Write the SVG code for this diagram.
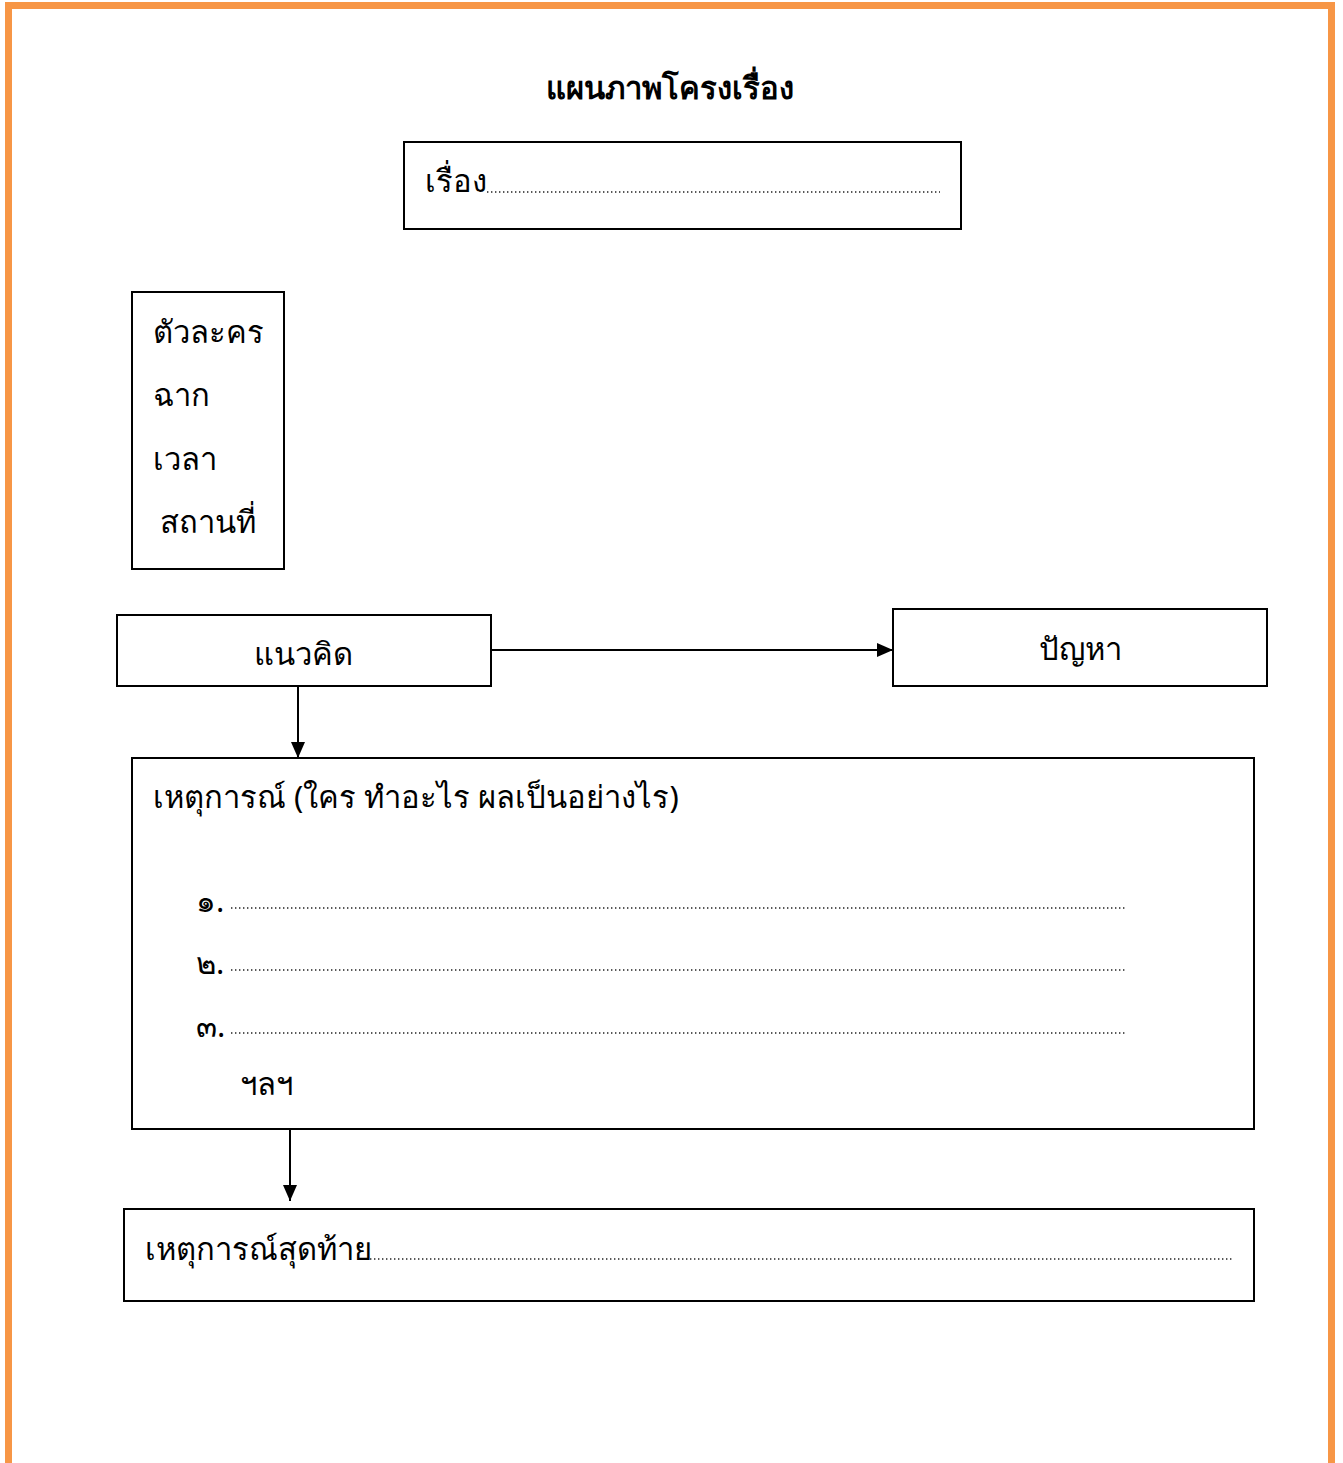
<svg xmlns="http://www.w3.org/2000/svg" width="1343" height="1463" viewBox="0 0 1343 1463">
<style>
.box{fill:#fff;stroke:#000;stroke-width:2}
.t{font-family:"Noto Sans","DejaVu Sans","Noto Sans CJK SC",sans-serif;font-size:31px;fill:#000}
.dots{stroke:#222;stroke-width:1.4;stroke-dasharray:1.4 2.6;fill:none}
.con{stroke:#000;stroke-width:2;fill:none}
</style>
<defs>
<marker id="arrS" viewBox="0 0 16 14" markerWidth="16" markerHeight="14" refX="16" refY="7" orient="auto" markerUnits="userSpaceOnUse">
<path d="M0,0 L16,7 L0,14 Z" fill="#000"/>
</marker>
</defs>
<rect width="1343" height="1463" fill="#fff"/>
<path d="M8.5,1463 V5.5 H1331.5 V1463" fill="none" stroke="#F79646" stroke-width="7"/>
<g id="title"><text class="t" x="670" y="99" text-anchor="middle" font-size="37" font-weight="bold">แผนภาพโครงเรื่อง</text></g>
<g id="story">
<rect class="box" x="404" y="142" width="557" height="87"/>
<text class="t" x="425" y="192">เรื่อง</text>
<line class="dots" x1="487" y1="192" x2="940" y2="192"/>
</g>
<g id="setting">
<rect class="box" x="132" y="292" width="152" height="277"/>
<text class="t" x="153" y="343">ตัวละคร</text>
<text class="t" x="153" y="406">ฉาก</text>
<text class="t" x="153" y="470">เวลา</text>
<text class="t" x="160" y="533">สถานที่</text>
</g>
<g id="theme">
<rect class="box" x="117" y="615" width="374" height="71"/>
<text class="t" x="303" y="665" text-anchor="middle">แนวคิด</text>
</g>
<g id="problem">
<rect class="box" x="893" y="609" width="374" height="77"/>
<text class="t" x="1080" y="660" text-anchor="middle">ปัญหา</text>
</g>
<g id="events">
<rect class="box" x="132" y="758" width="1122" height="371"/>
<text class="t" x="153" y="808">เหตุการณ์ (ใคร ทำอะไร ผลเป็นอย่างไร)</text>
<text class="t" x="196" y="912" font-size="26">๑.</text>
<line class="dots" x1="231" y1="908" x2="1126" y2="908"/>
<text class="t" x="196" y="974" font-size="26">๒.</text>
<line class="dots" x1="231" y1="970" x2="1126" y2="970"/>
<text class="t" x="196" y="1037" font-size="26">๓.</text>
<line class="dots" x1="231" y1="1033" x2="1126" y2="1033"/>
<text class="t" x="240" y="1095">ฯลฯ</text>
</g>
<g id="ending">
<rect class="box" x="124" y="1209" width="1130" height="92"/>
<text class="t" x="145" y="1260">เหตุการณ์สุดท้าย</text>
<line class="dots" x1="370" y1="1259" x2="1232" y2="1259"/>
</g>
<g id="connectors">
<line class="con" x1="491" y1="650" x2="893" y2="650" marker-end="url(#arrS)"/>
<line class="con" x1="298" y1="686" x2="298" y2="758" marker-end="url(#arrS)"/>
<line class="con" x1="290" y1="1129" x2="290" y2="1201" marker-end="url(#arrS)"/>
</g>
</svg>
